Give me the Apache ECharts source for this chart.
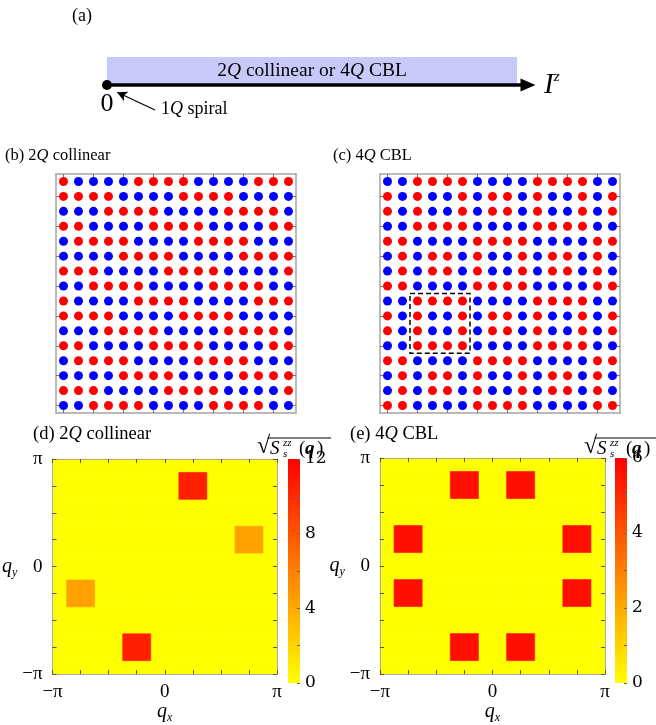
<!DOCTYPE html>
<html>
<head>
<meta charset="utf-8">
<script src="https://cdn.jsdelivr.net/npm/echarts@6/dist/echarts.min.js"></script>
<style>
  html, body { margin: 0; padding: 0; background: #fff; }
  #chart { width: 656px; height: 725px; }
</style>
</head>
<body>
<div id="chart"></div>
<script>
const SERIF = '"Liberation Serif", "Times New Roman", serif';
const NUMFONT = '"DejaVu Serif", serif';

// ---- (a) phase line along I^z ----
const fieldRange = [0, 1];              // schematic I^z axis
const phaseBand = [0, 0.974];           // region of the 2Q collinear / 4Q CBL states
const spiralPoint = [[0, 0]];           // 1Q spiral at I^z = 0
const spiralPointer = { from: [0.114, -0.89], to: [0.024, -0.26] };

// ---- (b), (c) real-space sign of S^z, rows from top to bottom ('+' up, '-' down) ----
const spinsCollinear = [
  '+----++++----+++',
  '++++----++++----',
  '---++++----++++-',
  '++----++++----++',
  '-++++----++++---',
  '----++++----++++',
  '+++----++++----+',
  '--++++----++++--',
  '+----++++----+++',
  '++++----++++----',
  '---++++----++++-',
  '++----++++----++',
  '-++++----++++---',
  '----++++----++++',
  '+++----++++----+',
  '--++++----++++--'
];
const spinsCBL = [
  '--++++----++++--',
  '+-+--+-++-+--+-+',
  '+-+--+-++-+--+-+',
  '--++++----++++--',
  '++----++++----++',
  '-+-++-+--+-++-+-',
  '-+-++-+--+-++-+-',
  '++----++++----++',
  '--++++----++++--',
  '+-+--+-++-+--+-+',
  '+-+--+-++-+--+-+',
  '--++++----++++--',
  '++----++++----++',
  '-+-++-+--+-++-+-',
  '-+-++-+--+-++-+-',
  '++----++++----++'
];
const cblCell = { cols: [2, 5], rows: [8, 11] };   // magnetic unit cell, rows counted from top
const latticeTicks = [0, 2, 4, 6, 8, 10, 12, 14];

// ---- (d), (e) sqrt of spin structure factor; q in units of pi/4 ----
const qIndex = [-4, -3, -2, -1, 0, 1, 2, 3, 4];
const peaksCollinear = [
  [1, 3, 10.5], [-1, -3, 10.5],
  [3, 1, 4.4], [-3, -1, 4.4]
];
const peaksCBL = [
  [-1, 3, 5.65], [1, 3, 5.65],
  [-3, 1, 5.65], [3, 1, 5.65],
  [-3, -1, 5.65], [3, -1, 5.65],
  [-1, -3, 5.65], [1, -3, 5.65]
];
const colorMaxCollinear = 12;
const colorMaxCBL = 6;
const colorTicksCollinear = 4;
const colorTicksCBL = 2;
const heatColors = ['#ffff00', '#ff0000'];

// ---------------------------------------------------------------
function spinData(rows, sign) {
  const out = [];
  const n = rows.length;
  rows.forEach((row, r) => {
    for (let c = 0; c < row.length; c++) {
      if (row[c] === sign) out.push([c, n - 1 - r]);
    }
  });
  return out;
}

function sfData(peaks) {
  const out = [];
  for (const qy of qIndex) {
    for (const qx of qIndex) {
      const p = peaks.find(pk => pk[0] === qx && pk[1] === qy);
      out.push([qx, qy, p ? p[2] : 0]);
    }
  }
  out.sort((a, b) => a[2] - b[2]);
  return out;
}

function textStyle(size, lh) {
  const base = { fontFamily: SERIF, fontSize: size, fontWeight: 'normal', color: '#000', lineHeight: lh || Math.round(size * 1.15) };
  return Object.assign({}, base, { rich: { i: Object.assign({}, base, { fontStyle: 'italic' }) } });
}

function latticeAxis(gridIndex, position) {
  return {
    type: 'value', gridIndex, position, min: -0.5, max: 15.5, z: 5,
    axisLine: { show: true, onZero: false, lineStyle: { color: '#a4a4a4', width: 1.5 } },
    axisTick: { show: true, inside: true, length: 3, customValues: latticeTicks, lineStyle: { color: '#777', width: 1 } },
    axisLabel: { show: false },
    splitLine: { show: false }
  };
}

function piLabel(v) {
  if (v === -4) return '\u2212\u03c0';
  if (v === 0) return '0';
  if (v === 4) return '\u03c0';
  return '';
}

function qAxis(gridIndex, position, labels, isX) {
  const ax = {
    type: 'value', gridIndex, position, min: -4, max: 4, interval: 1, z: 10,
    axisLine: { show: true, onZero: false, lineStyle: { color: '#aaaaaa', width: 1 } },
    axisTick: { show: true, inside: true, length: 4, lineStyle: { color: '#555', width: 1 } },
    axisLabel: {
      show: labels, formatter: piLabel, fontFamily: SERIF, fontSize: 19, color: '#000',
      margin: isX ? 8 : 10, showMinLabel: true, showMaxLabel: true
    },
    splitLine: { show: false }
  };
  if (labels) {
    ax.name = isX ? '{q|q}{s|x}' : '{q|q}{s|y}';
    ax.nameLocation = 'middle';
    ax.nameGap = isX ? 21 : 27;
    ax.nameRotate = 0;
    ax.nameTextStyle = {
      rich: {
        q: { fontFamily: SERIF, fontStyle: 'italic', fontSize: 20, lineHeight: 24, color: '#000' },
        s: { fontFamily: SERIF, fontStyle: 'italic', fontSize: 12, lineHeight: 12, verticalAlign: 'bottom', color: '#000' }
      }
    };
  }
  return ax;
}

function renderCell(params, api) {
  const qx = api.value(0), qy = api.value(1);
  const p0 = api.coord([qx - 0.5, qy + 0.5]);
  const p1 = api.coord([qx + 0.5, qy - 0.5]);
  const cs = params.coordSys;
  const rect = echarts.graphic.clipRectByRect(
    { x: p0[0], y: p0[1], width: p1[0] - p0[0], height: p1[1] - p0[1] },
    { x: cs.x, y: cs.y, width: cs.width, height: cs.height }
  );
  if (!rect) return null;
  const c = api.visual('color');
  return { type: 'rect', shape: rect, style: { fill: c, stroke: c, lineWidth: 0.6 } };
}

function colorbarGradient() {
  return new echarts.graphic.LinearGradient(0, 1, 0, 0, [
    { offset: 0, color: heatColors[0] },
    { offset: 1, color: heatColors[1] }
  ]);
}

function colorbarAxis(gridIndex, max, interval) {
  return {
    type: 'value', gridIndex, position: 'right', min: 0, max, interval, z: 10,
    axisLine: { show: false },
    axisTick: { show: true, inside: true, length: 3, lineStyle: { color: '#666' } },
    minorTick: { show: true, splitNumber: 2, length: 3, lineStyle: { color: '#666' } },
    axisLabel: { fontFamily: NUMFONT, fontSize: 17, color: '#000', margin: 5 },
    splitLine: { show: false }
  };
}

// sqrt(S_s^zz(q)) colour-bar caption
function sqrtCaption(x0, yc) {
  const t = (text, x, y, size, extra) => ({
    type: 'text', x, y,
    style: Object.assign({ text, fill: '#000', font: size + 'px ' + SERIF, align: 'left', verticalAlign: 'middle' }, extra || {})
  });
  return {
    type: 'group', x: x0, y: yc, silent: true,
    children: [
      t('\u221a', 0, 0, 24),
      { type: 'line', shape: { x1: 10.5, y1: -9, x2: 74, y2: -9 }, style: { stroke: '#000', lineWidth: 1 } },
      t('S', 13, 2, 19, { font: 'italic 19px ' + SERIF }),
      t('zz', 26, -4, 11, { font: 'italic 11px ' + SERIF }),
      t('s', 26, 7, 11, { font: 'italic 11px ' + SERIF }),
      t('(', 42, 2, 19),
      t('q', 48, 2, 19, { font: 'italic bold 19px ' + SERIF }),
      t(')', 60, 2, 19)
    ]
  };
}

const spinStyle = color => ({ color, opacity: 1 });

const chart = echarts.init(document.getElementById('chart'), null, { renderer: 'canvas' });

const option = {
  animation: false,
  backgroundColor: '#fff',
  title: [
    { text: '(a)', left: 72, top: 7, padding: 0, textStyle: textStyle(18, 18) },
    { text: '1{i|Q} spiral', left: 161, top: 100, padding: 0, textStyle: textStyle(18, 18) },
    { text: '(b) 2{i|Q} collinear', left: 5, top: 147, padding: 0, textStyle: textStyle(16.5, 18) },
    { text: '(c) 4{i|Q} CBL', left: 333, top: 147, padding: 0, textStyle: textStyle(16.5, 18) },
    { text: '(d) 2{i|Q} collinear', left: 33, top: 424, padding: 0, textStyle: textStyle(18.5, 20) },
    { text: '(e) 4{i|Q} CBL', left: 350, top: 424, padding: 0, textStyle: textStyle(18.5, 20) }
  ],
  grid: [
    { left: 107, top: 57, width: 421, height: 56 },     // 0 (a)
    { left: 56, top: 174, width: 240, height: 239 },    // 1 (b)
    { left: 380, top: 174, width: 240, height: 239 },   // 2 (c)
    { left: 52, top: 459, width: 225, height: 224 },    // 3 (d)
    { left: 380, top: 458, width: 225, height: 225 },   // 4 (e)
    { left: 288, top: 459, width: 12, height: 224 },    // 5 colour bar (d)
    { left: 615, top: 458, width: 12, height: 225 }     // 6 colour bar (e)
  ],
  xAxis: [
    {
      type: 'value', gridIndex: 0, min: fieldRange[0], max: fieldRange[1], z: 5,
      axisLine: { show: true, onZero: true, symbol: ['none', 'triangle'], symbolSize: [13, 15],
        lineStyle: { color: '#000', width: 3.5 } },
      axisTick: { show: false },
      splitLine: { show: false },
      axisLabel: { show: false },
      name: '{I|I}{z|z}', nameLocation: 'end', nameGap: 16,
      nameTextStyle: { rich: {
        I: { fontFamily: SERIF, fontStyle: 'italic', fontSize: 29, lineHeight: 30, color: '#000' },
        z: { fontFamily: SERIF, fontStyle: 'italic', fontSize: 15, lineHeight: 15, verticalAlign: 'top', color: '#000' }
      } }
    },
    latticeAxis(1, 'bottom'), latticeAxis(1, 'top'),
    latticeAxis(2, 'bottom'), latticeAxis(2, 'top'),
    qAxis(3, 'bottom', true, true), qAxis(3, 'top', false, true),
    qAxis(4, 'bottom', true, true), qAxis(4, 'top', false, true),
    { type: 'category', gridIndex: 5, data: ['bar'], show: false },
    { type: 'category', gridIndex: 6, data: ['bar'], show: false }
  ],
  yAxis: [
    { type: 'value', gridIndex: 0, min: -1, max: 1, show: false },
    latticeAxis(1, 'left'), latticeAxis(1, 'right'),
    latticeAxis(2, 'left'), latticeAxis(2, 'right'),
    qAxis(3, 'left', true, false), qAxis(3, 'right', false, false),
    qAxis(4, 'left', true, false), qAxis(4, 'right', false, false),
    colorbarAxis(5, colorMaxCollinear, colorTicksCollinear),
    colorbarAxis(6, colorMaxCBL, colorTicksCBL)
  ],
  visualMap: [
    { show: false, type: 'continuous', seriesIndex: 5, dimension: 2, min: 0, max: colorMaxCollinear, inRange: { color: heatColors } },
    { show: false, type: 'continuous', seriesIndex: 6, dimension: 2, min: 0, max: colorMaxCBL, inRange: { color: heatColors } }
  ],
  series: [
    {
      type: 'scatter', xAxisIndex: 0, yAxisIndex: 0, data: spiralPoint, symbolSize: 10, z: 10, silent: true,
      itemStyle: { color: '#000', opacity: 1 },
      label: {
        show: true, position: 'bottom', distance: 1, formatter: '0',
        fontFamily: SERIF, fontSize: 26, lineHeight: 26, color: '#000'
      },
      markArea: {
        silent: true,
        itemStyle: { color: '#c9c9f9' },
        label: {
          show: true, position: 'inside', formatter: '2{i|Q} collinear or 4{i|Q} CBL',
          fontFamily: SERIF, fontSize: 19.5, color: '#000',
          rich: { i: { fontFamily: SERIF, fontSize: 19.5, fontStyle: 'italic', color: '#000' } }
        },
        data: [[{ coord: [phaseBand[0], 0] }, { coord: [phaseBand[1], 1] }]]
      },
      markLine: {
        silent: true, symbol: ['none', 'arrow'], symbolSize: [8, 10],
        lineStyle: { color: '#000', width: 1.2, type: 'solid' },
        label: { show: false },
        data: [[{ coord: spiralPointer.from }, { coord: spiralPointer.to }]]
      }
    },
    { type: 'scatter', xAxisIndex: 1, yAxisIndex: 1, data: spinData(spinsCollinear, '+'), symbolSize: 9, silent: true, itemStyle: spinStyle('#ff0000') },
    { type: 'scatter', xAxisIndex: 1, yAxisIndex: 1, data: spinData(spinsCollinear, '-'), symbolSize: 9, silent: true, itemStyle: spinStyle('#0000ff') },
    {
      type: 'scatter', xAxisIndex: 3, yAxisIndex: 3, data: spinData(spinsCBL, '+'), symbolSize: 9, silent: true, itemStyle: spinStyle('#ff0000'),
      markArea: {
        silent: true, z: 6,
        itemStyle: { color: 'rgba(0,0,0,0)', borderColor: '#000', borderWidth: 1.5, borderType: [5, 3] },
        data: [[
          { coord: [cblCell.cols[0] - 0.5, spinsCBL.length - 1 - cblCell.rows[0] + 0.5] },
          { coord: [cblCell.cols[1] + 0.5, spinsCBL.length - 1 - cblCell.rows[1] - 0.5] }
        ]]
      }
    },
    { type: 'scatter', xAxisIndex: 3, yAxisIndex: 3, data: spinData(spinsCBL, '-'), symbolSize: 9, silent: true, itemStyle: spinStyle('#0000ff') },
    { type: 'custom', xAxisIndex: 5, yAxisIndex: 5, data: sfData(peaksCollinear), renderItem: renderCell, encode: { x: 0, y: 1 }, silent: true },
    { type: 'custom', xAxisIndex: 7, yAxisIndex: 7, data: sfData(peaksCBL), renderItem: renderCell, encode: { x: 0, y: 1 }, silent: true },
    { type: 'bar', xAxisIndex: 9, yAxisIndex: 9, data: [colorMaxCollinear], barWidth: '100%', silent: true, itemStyle: { color: colorbarGradient() } },
    { type: 'bar', xAxisIndex: 10, yAxisIndex: 10, data: [colorMaxCBL], barWidth: '100%', silent: true, itemStyle: { color: colorbarGradient() } }
  ],
  graphic: [
    sqrtCaption(257, 447),
    sqrtCaption(584, 447)
  ]
};

chart.setOption(option);
</script>
</body>
</html>
